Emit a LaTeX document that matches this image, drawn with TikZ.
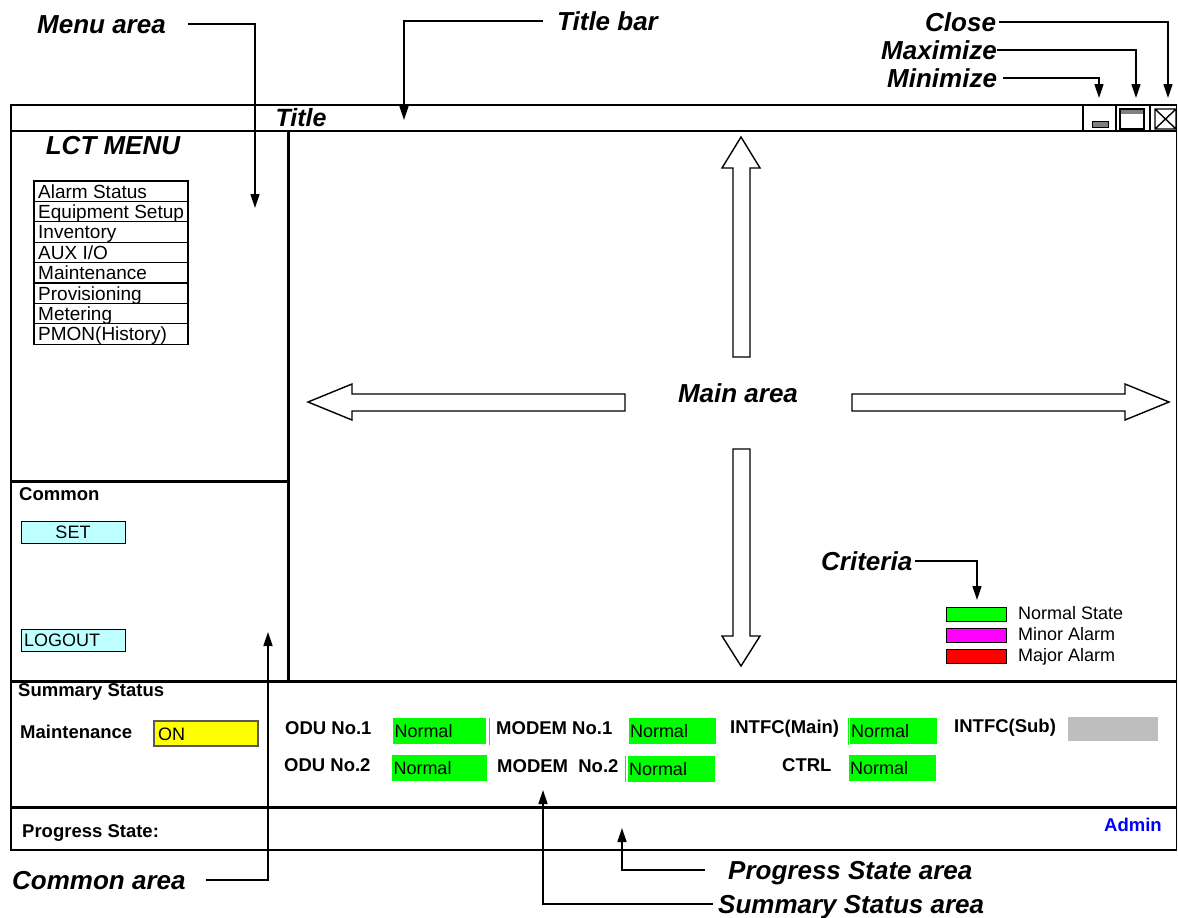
\documentclass[tikz,border=0pt]{standalone}
\usepackage{fontspec}
\setmainfont{Liberation Sans}
\usetikzlibrary{arrows.meta}
\definecolor{stgreen}{RGB}{0,255,0}
\definecolor{stmagenta}{RGB}{255,0,255}
\definecolor{stred}{RGB}{255,0,0}
\definecolor{styellow}{RGB}{255,255,0}
\definecolor{btncyan}{RGB}{190,255,255}
\definecolor{offgray}{RGB}{190,190,190}
\definecolor{adminblue}{RGB}{0,0,255}
\begin{document}
\begin{tikzpicture}[x=1pt, y=-1pt,
        every node/.style={font=\fontsize{18}{20}\selectfont, inner sep=0pt},
        callout/.style={font=\fontsize{26}{28}\selectfont\bfseries\itshape,
            anchor=west, text height=18.5pt, text depth=0pt},
        pointer/.style={-{Triangle[length=14pt, width=9pt]}, line width=1.6pt},
        frame/.style={line width=1.8pt},
        divider/.style={line width=3pt},
        hollow/.style={draw, line width=1.4pt, fill=white, line join=miter},
        lbl/.style={anchor=west, text height=13pt, text depth=0pt},
        boldlbl/.style={lbl, font=\fontsize{18.5}{20}\selectfont\bfseries},
        btn/.style={draw, fill=btncyan, line width=0.8pt, minimum width=104pt,
            minimum height=22pt, text height=13pt, text depth=0pt},
        statbox/.style={fill=stgreen, minimum height=26pt, align=left,
            text height=13pt, text depth=0pt}
      ]
      \useasboundingbox (0,0) rectangle (1178,918);
      % window frame and title bar
      \draw[frame] (11,105) rectangle (1176.5,850);
      \draw[frame] (11,131) -- (1176.5,131);
      \foreach \x in {1083,1116,1150}{
          \draw[frame] (\x,105) -- (\x,131);
        }
      \node[font=\fontsize{25}{26}\selectfont\bfseries\itshape] (title) at (301,118) {Title};
      \draw[fill=gray, line width=0.8pt] (1092,121) rectangle (1108,127);
      \draw[line width=1.4pt] (1120,109) rectangle (1144,129);
      \fill[gray] (1121,110) rectangle (1143,114);
      \draw[line width=1.4pt] (1155,109) rectangle (1176,129)
      (1155,109) -- (1176,129) (1155,129) -- (1176,109);
      % panel borders
      \draw[divider] (288,131) -- (288,681);
      \draw[divider] (11,481) -- (288,481);
      \draw[divider] (11,681) -- (1176.5,681);
      \draw[divider] (11,807) -- (1176.5,807);
      % menu
      \node[font=\fontsize{26}{28}\selectfont\bfseries\itshape] (lctmenu) at (113,146) {LCT MENU};
      \foreach \entry [count=\i] in {Alarm Status, Equipment Setup, Inventory, AUX I/O,
            Maintenance, Provisioning, Metering, PMON(History)}{
          \draw[line width=1.2pt] (34,{181+20.4*(\i-1)}) rectangle (188,{181+20.4*\i});
          \node[lbl, font=\fontsize{19}{20}\selectfont] (menu\i) at (38,{191.5+20.4*(\i-1)}) {\entry};
        }
      % common
      \node[boldlbl] (common) at (19,494) {Common};
      \node[btn] (set) at (73,532) {SET};
      \node[btn, text width=98pt, align=left] (logout) at (73,640) {LOGOUT};
      % summary status
      \node[boldlbl] (summary) at (18,690) {Summary Status};
      \node[boldlbl] (maint) at (20,732) {Maintenance};
      \node[draw=gray!70!black, fill=styellow, line width=1.2pt, minimum width=104pt,
        minimum height=25pt, text width=96pt, align=left, text height=13pt,
        text depth=0pt] (onbox) at (206,733.5) {ON};
      \node[boldlbl] (odu1) at (285,728) {ODU No.1};
      \node[boldlbl] (modem1) at (496,728) {MODEM No.1};
      \node[boldlbl] (intfcmain) at (730,727) {INTFC(Main)};
      \node[boldlbl] (intfcsub) at (954,726) {INTFC(Sub)};
      \node[boldlbl] (odu2) at (284,765) {ODU No.2};
      \node[boldlbl] (modem2) at (497,766) {MODEM\ \ No.2};
      \node[boldlbl] (ctrl) at (782,765) {CTRL};
      \node[statbox, minimum width=93pt, text width=90pt] (odu1st) at (439.5,731) {Normal};
      \node[statbox, minimum width=87pt, text width=85pt] (modem1st) at (672.5,731) {Normal};
      \node[statbox, minimum width=87pt, text width=85pt] (intfcmainst) at (893.5,731) {Normal};
      \node[fill=offgray, minimum width=90pt, minimum height=24pt] (intfcsubst) at (1113,729) {};
      \node[statbox, minimum width=95pt, text width=92pt] (odu2st) at (439.5,768) {Normal};
      \node[statbox, minimum width=87pt, text width=85pt] (modem2st) at (671.5,769) {Normal};
      \node[statbox, minimum width=87pt, text width=85pt] (ctrlst) at (892.5,768) {Normal};
      \draw[stgreen, line width=1pt] (489,718) -- (489,745);
      \draw[stgreen, line width=1pt] (848,718) -- (848,745);
      \draw[stgreen, line width=1pt] (625,756) -- (625,782);
      % progress state
      \node[boldlbl] (progress) at (22,831) {Progress State:};
      \node[font=\fontsize{18.5}{20}\selectfont\bfseries, text=adminblue] (admin) at (1133,825) {Admin};
      % main area
      \node[font=\fontsize{26}{28}\selectfont\bfseries\itshape] (mainarea) at (738,393) {Main area};
      \draw[hollow] (733,357) -- (733,168) -- (722,168) -- (741,137) -- (760,168)
      -- (750,168) -- (750,357) -- cycle;
      \draw[hollow] (733,449) -- (733,636) -- (722,636) -- (741,666) -- (760,636)
      -- (750,636) -- (750,449) -- cycle;
      \draw[hollow] (625,394) -- (352,394) -- (352,384) -- (308,402) -- (352,420)
      -- (352,411) -- (625,411) -- cycle;
      \draw[hollow] (852,394) -- (1125,394) -- (1125,384) -- (1169,402) -- (1125,420)
      -- (1125,411) -- (852,411) -- cycle;
      % criteria
      \foreach \c/\t/\yy [count=\i] in {stgreen/Normal State/614,
            stmagenta/Minor Alarm/635, stred/Major Alarm/656}{
          \draw[fill=\c, line width=1pt] (946,\yy-7) rectangle (1006,\yy+7);
          \node[lbl] (crit\i) at (1018,\yy-1) {\t};
        }
      % callouts
      \node[callout] (menulbl) at (37,24) {Menu area};
      \coordinate (menutip) at (255,208);
      \draw[pointer] ([xshift=22pt]menulbl.east) -| (menutip);
      \node[callout] (titlebarlbl) at (557,21) {Title bar};
      \coordinate (titlebartip) at (404,120);
      \draw[pointer] ([xshift=-14pt]titlebarlbl.west) -| (titlebartip);
      \node[callout] (closelbl) at (925,22) {Close};
      \coordinate (closetip) at (1168,98);
      \draw[pointer] ([xshift=3pt]closelbl.east) -| (closetip);
      \node[callout] (maxlbl) at (881,50) {Maximize};
      \coordinate (maxtip) at (1136,98);
      \draw[pointer] ([xshift=0pt]maxlbl.east) -| (maxtip);
      \node[callout] (minlbl) at (887,78) {Minimize};
      \coordinate (mintip) at (1099,98);
      \draw[pointer] ([xshift=6pt]minlbl.east) -| (mintip);
      \node[callout] (criterialbl) at (821,561) {Criteria};
      \coordinate (criteriatip) at (977,600);
      \draw[pointer] ([xshift=3pt]criterialbl.east) -| (criteriatip);
      \node[callout] (commonlbl) at (12,880) {Common area};
      \coordinate (commontip) at (268,632);
      \draw[pointer] ([xshift=20pt]commonlbl.east) -| (commontip);
      \node[callout] (progresslbl) at (728,870) {Progress State area};
      \coordinate (progresstip) at (622,828);
      \draw[pointer] ([xshift=-23pt]progresslbl.west) -| (progresstip);
      \node[callout] (summarylbl) at (718,904) {Summary Status area};
      \coordinate (summarytip) at (543,790);
      \draw[pointer] ([xshift=-5pt]summarylbl.west) -| (summarytip);
    \end{tikzpicture}
\end{document}
